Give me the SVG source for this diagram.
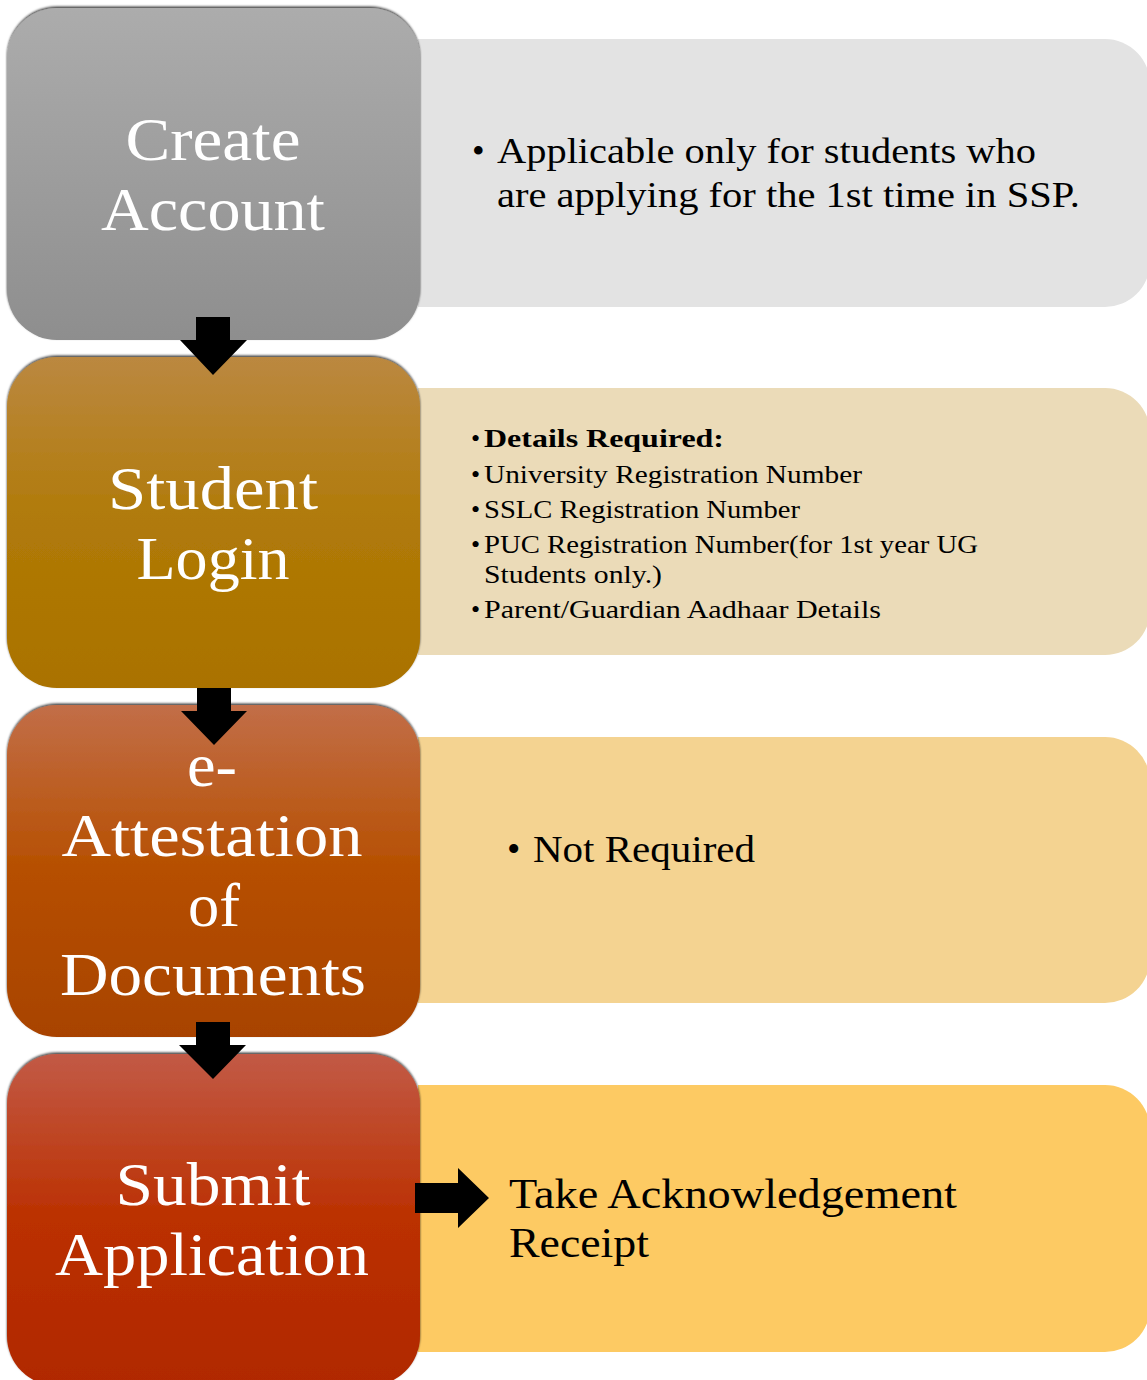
<svg xmlns="http://www.w3.org/2000/svg" width="1147" height="1380" viewBox="0 0 1147 1380">
<defs>
<linearGradient id="g1" x1="0" y1="0" x2="0" y2="1"><stop offset="0" stop-color="#acacac"/><stop offset="1" stop-color="#8e8e8e"/></linearGradient>
<linearGradient id="g2" x1="0" y1="0" x2="0" y2="1"><stop offset="0" stop-color="#bb8840"/><stop offset="0.5" stop-color="#b07a08"/><stop offset="1" stop-color="#aa7200"/></linearGradient>
<linearGradient id="g3" x1="0" y1="0" x2="0" y2="1"><stop offset="0" stop-color="#c26e48"/><stop offset="0.5" stop-color="#b64f00"/><stop offset="1" stop-color="#a84300"/></linearGradient>
<linearGradient id="g4" x1="0" y1="0" x2="0" y2="1"><stop offset="0" stop-color="#c25a46"/><stop offset="0.5" stop-color="#bb3000"/><stop offset="1" stop-color="#b02800"/></linearGradient>
<filter id="sh" x="-5%" y="-5%" width="110%" height="110%"><feDropShadow dx="0" dy="-1.5" stdDeviation="1.2" flood-color="#000" flood-opacity="0.75"/></filter>
</defs>
<style>
.title{font-family:"Liberation Serif","Times New Roman",serif;font-size:62px;fill:#fff;text-anchor:middle}
.body{font-family:"Liberation Serif","Times New Roman",serif;fill:#000}
</style>
<g id="detail1"><path d="M418,39 H1105 A45,45 0 0 1 1150,84 V262 A45,45 0 0 1 1105,307 H418 Z" fill="#e3e3e3"/>
<text class="body" font-size="36"><tspan x="472" y="163">•</tspan><tspan x="497" y="163" textLength="539" lengthAdjust="spacingAndGlyphs">Applicable only for students who</tspan><tspan x="497" y="207" textLength="583" lengthAdjust="spacingAndGlyphs">are applying for the 1st time in SSP.</tspan></text></g>
<g id="detail2"><path d="M418,388 H1105 A45,45 0 0 1 1150,433 V610 A45,45 0 0 1 1105,655 H418 Z" fill="#ebdbb8"/>
<g class="body" font-size="26">
<text x="471" y="447">•</text><text x="484" y="447" font-weight="bold" textLength="240" lengthAdjust="spacingAndGlyphs">Details Required:</text>
<text x="471" y="483">•</text><text x="484" y="483" textLength="378" lengthAdjust="spacingAndGlyphs">University Registration Number</text>
<text x="471" y="518">•</text><text x="484" y="518" textLength="316" lengthAdjust="spacingAndGlyphs">SSLC Registration Number</text>
<text x="471" y="553">•</text><text x="484" y="553" textLength="494" lengthAdjust="spacingAndGlyphs">PUC Registration Number(for 1st year UG</text>
<text x="484" y="583" textLength="178" lengthAdjust="spacingAndGlyphs">Students only.)</text>
<text x="471" y="618">•</text><text x="484" y="618" textLength="397" lengthAdjust="spacingAndGlyphs">Parent/Guardian Aadhaar Details</text>
</g></g>
<g id="detail3"><path d="M418,737 H1105 A45,45 0 0 1 1150,782 V958 A45,45 0 0 1 1105,1003 H418 Z" fill="#f4d391"/>
<text class="body" font-size="38"><tspan x="507" y="862">•</tspan><tspan x="533" y="862" textLength="222" lengthAdjust="spacingAndGlyphs">Not Required</tspan></text></g>
<g id="detail4"><path d="M418,1085 H1105 A45,45 0 0 1 1150,1130 V1307 A45,45 0 0 1 1105,1352 H418 Z" fill="#fdca63"/>
<text class="body" font-size="42"><tspan x="509" y="1208" textLength="448" lengthAdjust="spacingAndGlyphs">Take Acknowledgement</tspan><tspan x="509" y="1257" textLength="140" lengthAdjust="spacingAndGlyphs">Receipt</tspan></text></g>
<g id="step1"><rect x="7" y="8" width="413" height="332" rx="50" fill="url(#g1)" filter="url(#sh)"/>
<text class="title"><tspan x="213" y="160" textLength="175" lengthAdjust="spacingAndGlyphs">Create</tspan><tspan x="213" y="230" textLength="224" lengthAdjust="spacingAndGlyphs">Account</tspan></text></g>
<g id="step2"><rect x="7" y="357" width="413" height="331" rx="50" fill="url(#g2)" filter="url(#sh)"/>
<text class="title"><tspan x="213" y="509" textLength="210" lengthAdjust="spacingAndGlyphs">Student</tspan><tspan x="213" y="579" textLength="153" lengthAdjust="spacingAndGlyphs">Login</tspan></text></g>
<g id="step3"><rect x="7" y="705" width="413" height="332" rx="50" fill="url(#g3)" filter="url(#sh)"/>
<text class="title"><tspan x="212" y="786" textLength="50" lengthAdjust="spacingAndGlyphs">e-</tspan><tspan x="212" y="856" textLength="301" lengthAdjust="spacingAndGlyphs">Attestation</tspan><tspan x="214" y="926" textLength="52" lengthAdjust="spacingAndGlyphs">of</tspan><tspan x="213" y="995" textLength="306" lengthAdjust="spacingAndGlyphs">Documents</tspan></text></g>
<g id="step4"><rect x="7" y="1054" width="413" height="332" rx="50" fill="url(#g4)" filter="url(#sh)"/>
<text class="title"><tspan x="213" y="1205" textLength="195" lengthAdjust="spacingAndGlyphs">Submit</tspan><tspan x="212" y="1275" textLength="314" lengthAdjust="spacingAndGlyphs">Application</tspan></text></g>
<g id="connectors" fill="#000">
<polygon points="196,317 230,317 230,340 247,340 213,375 180,340 196,340"/>
<polygon points="197,688 231,688 231,711 247,711 214,745 181,711 197,711"/>
<polygon points="196,1022 230,1022 230,1045 246,1045 213,1079 179,1045 196,1045"/>
<polygon points="415,1183 458,1183 458,1168 489,1198 458,1228 458,1213 415,1213"/>
</g>
</svg>
